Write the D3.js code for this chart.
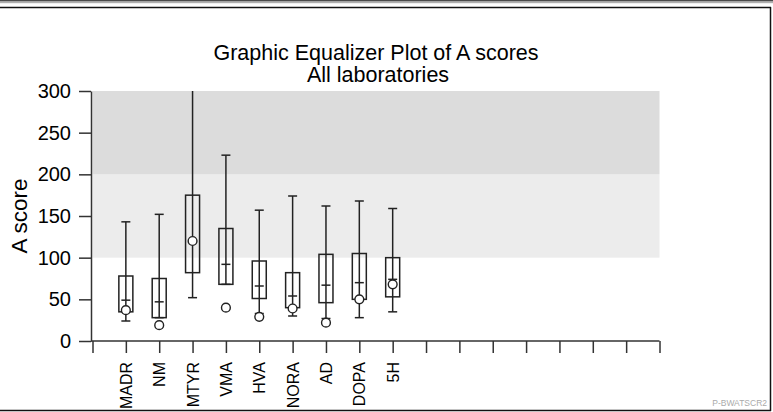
<!DOCTYPE html>
<html><head><meta charset="utf-8">
<script src="https://cdn.jsdelivr.net/npm/d3@7/dist/d3.min.js"></script>
<style>
html,body{margin:0;padding:0;background:#fff;}
svg{display:block;font-family:"Liberation Sans",Arial,Helvetica,sans-serif;}
</style></head>
<body>
<svg id="chart" width="773" height="412"></svg>
<script>
// ---- data ----
const labs = ["MADR","NM","MTYR","VMA","HVA","NORA","AD","DOPA","5H"];
const whiskerLow  = [24, 28, 52, 68, 33, 30, 27, 28, 35];
const q1          = [35, 28, 82, 68, 51, 40, 46, 50, 53];
const median      = [49, 47, 120, 92, 66, 54, 67, 70, 74];
const q3          = [78, 75, 175, 135, 96, 82, 104, 105, 100];
const whiskerHigh = [143, 152, 320, 223, 157, 174, 162, 168, 159];
const marker      = [37, 19, 120, 40, 29, 39, 22, 50, 68];
const yTicks = [0, 50, 100, 150, 200, 250, 300];
const slotCount = 17; // tick slots 0..17, labs occupy 1..9
const bands = [{lo:100, hi:200, c:"#ececec"}, {lo:200, hi:300, c:"#dcdcdc"}];

const svg = d3.select("#chart");
const W = 773, H = 412;

// frame
svg.append("rect").attr("x",0).attr("y",0).attr("width",W).attr("height",1.5).attr("fill","#4a4a4a");
svg.append("rect").attr("x",0).attr("y",2).attr("width",W).attr("height",1.2).attr("fill","#b0b0b0");
svg.append("line").attr("x1",0).attr("x2",771).attr("y1",7.5).attr("y2",7.5).attr("stroke","#111").attr("stroke-width",1.5);
svg.append("line").attr("x1",770.5).attr("x2",770.5).attr("y1",7).attr("y2",411).attr("stroke","#111").attr("stroke-width",1.5);
svg.append("line").attr("x1",0).attr("x2",771).attr("y1",410.5).attr("y2",410.5).attr("stroke","#111").attr("stroke-width",1.5);

const x = d3.scaleLinear().domain([0, slotCount]).range([92.5, 659.5]);
const y = d3.scaleLinear().domain([0, 300]).range([341, 91]);

// bands
svg.selectAll("rect.band").data(bands).join("rect").attr("class","band")
  .attr("x", x(0)).attr("width", x(slotCount)-x(0))
  .attr("y", d=>y(d.hi)).attr("height", d=>y(d.lo)-y(d.hi))
  .attr("fill", d=>d.c);

// clip
svg.append("clipPath").attr("id","plotclip").append("rect")
  .attr("x", 80).attr("y", y(300)).attr("width", 600).attr("height", y(0)-y(300)+30);

// titles
svg.append("text").attr("x",376).attr("y",60).attr("text-anchor","middle")
  .attr("font-size",21.5).attr("fill","#000").text("Graphic Equalizer Plot of A scores");
svg.append("text").attr("x",378).attr("y",82).attr("text-anchor","middle")
  .attr("font-size",21.5).attr("fill","#000").text("All laboratories");

// y axis
const yAxis = svg.append("g").attr("transform","translate(91,0)")
  .call(d3.axisLeft(y).tickValues(yTicks).tickSize(12).tickSizeOuter(0).tickPadding(8));
yAxis.select(".domain").attr("stroke","#333").attr("stroke-width",1.5);
yAxis.selectAll(".tick line").attr("stroke","#333").attr("stroke-width",1.5);
yAxis.selectAll(".tick text").attr("font-size",20).attr("fill","#000")
  .attr("font-family","'Liberation Sans',Arial,sans-serif");

svg.append("text").attr("transform","translate(27,216) rotate(-90)")
  .attr("text-anchor","middle").attr("font-size",22.5).attr("fill","#000").text("A score");

// x axis
const xAxis = svg.append("g").attr("transform","translate(0,341)")
  .call(d3.axisBottom(x).tickValues(d3.range(0, slotCount+1)).tickSize(12).tickSizeOuter(0)
        .tickFormat(i => (i>=1 && i<=labs.length) ? labs[i-1] : ""));
xAxis.select(".domain").attr("stroke","#333").attr("stroke-width",1.5).attr("d", `M91,0H${x(slotCount)}`);
xAxis.selectAll(".tick line").attr("stroke","#333").attr("stroke-width",1.5);
xAxis.selectAll(".tick text").attr("font-size",16).attr("fill","#000")
  .attr("text-anchor","end").attr("transform","rotate(-90)")
  .attr("x",-21).attr("y",0).attr("dy","0.35em");

// boxes
const g = svg.append("g").attr("clip-path","url(#plotclip)");
const stroke = "#222", sw = 1.5, boxHalf = 7, capHalf = 4.5;
labs.forEach((lab, i) => {
  const cx = x(i+1);
  g.append("line").attr("x1",cx).attr("x2",cx).attr("y1",y(whiskerLow[i])).attr("y2",y(whiskerHigh[i]))
    .attr("stroke",stroke).attr("stroke-width",sw);
  g.append("line").attr("x1",cx-capHalf).attr("x2",cx+capHalf).attr("y1",y(whiskerLow[i])).attr("y2",y(whiskerLow[i]))
    .attr("stroke",stroke).attr("stroke-width",sw);
  g.append("line").attr("x1",cx-capHalf).attr("x2",cx+capHalf).attr("y1",y(whiskerHigh[i])).attr("y2",y(whiskerHigh[i]))
    .attr("stroke",stroke).attr("stroke-width",sw);
  g.append("rect").attr("x",cx-boxHalf).attr("width",boxHalf*2)
    .attr("y",y(q3[i])).attr("height",y(q1[i])-y(q3[i]))
    .attr("fill","none").attr("stroke",stroke).attr("stroke-width",sw);
  g.append("line").attr("x1",cx-capHalf).attr("x2",cx+capHalf).attr("y1",y(median[i])).attr("y2",y(median[i]))
    .attr("stroke",stroke).attr("stroke-width",sw);
  g.append("circle").attr("cx",cx).attr("cy",y(marker[i])).attr("r",4.4)
    .attr("fill","#fff").attr("stroke",stroke).attr("stroke-width",1.4);
});

// watermark
svg.append("text").attr("x",767).attr("y",406).attr("text-anchor","end")
  .attr("font-size",8.5).attr("fill","#aaa").text("P-BWATSCR2");
</script>
</body></html>
